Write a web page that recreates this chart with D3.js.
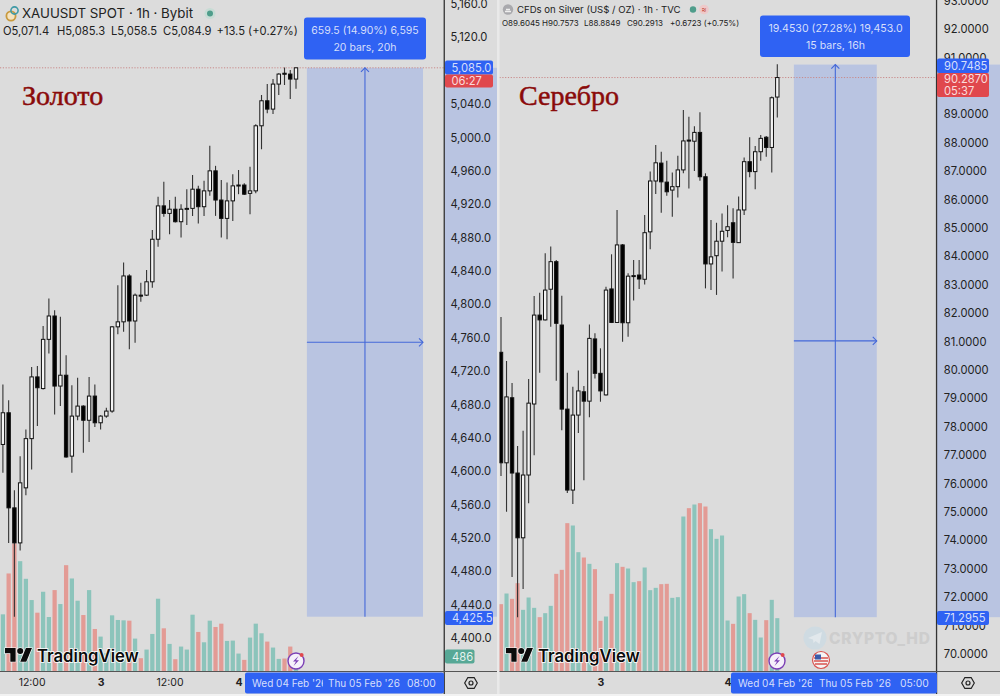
<!DOCTYPE html>
<html><head><meta charset="utf-8">
<script src="https://cdn.jsdelivr.net/npm/d3@7"></script>
<style>html,body{margin:0;padding:0;background:#dcdcdc;overflow:hidden}svg{display:block}text{font-family:Inter,"Liberation Sans",sans-serif}</style>
</head><body><svg id="c" width="1000" height="696"></svg>
<script>
// ---------- GOLD (XAUUSDT 1h) ----------
const goldOpen=[4632,4670,4556,4514,4580,4639,4713,4699,4758,4786,4702,4715,4618,4666,4678,4661,4690,4658,4666,4672,4773,4779,4834,4780,4811,4811,4827,4878,4918,4909,4914,4899,4914,4915,4938,4917,4936,4960,4925,4903,4924,4942,4943,4933,4936,5014,5044,5034,5064,5077,5076,5070];
const goldHigh=[4704,4685,4577,4618,4650,4725,4726,4774,4807,4793,4785,4739,4703,4712,4679,4713,4704,4667,4676,4774,4823,4850,4836,4813,4826,4841,4889,4929,4947,4925,4929,4920,4938,4955,4942,4948,4990,4966,4949,4946,4956,4961,4945,4965,5016,5051,5064,5070,5077,5084,5081,5084];
const goldLow=[4598,4514,4425.5,4505,4571,4602,4654,4698,4741,4668,4678,4616,4598,4661,4622,4635,4653,4650,4664,4670,4764,4767,4746,4754,4803,4810,4820,4869,4905,4884,4898,4880,4895,4906,4897,4906,4930,4906,4880,4878,4900,4932,4931,4908,4933,4986,5029,5028,5051,5063,5046,5058.5];
const goldClose=[4670,4556,4514,4586,4639,4713,4700,4758,4786,4702,4715,4617,4666,4678,4661,4690,4658,4666,4672,4773,4779,4834,4780,4811,4810,4827,4878,4918,4909,4914,4899,4914,4915,4938,4917,4936,4960,4925,4903,4924,4942,4943,4932,4936,5014,5044,5034,5064,5076,5076,5070,5083.5];
const goldVolume=[1772,3039,3966,3420,2874,2215,1823,2472,1689,2524,2091,3296,2884,2194,1751,2524,1318,1082,567,1741,1597,1586,1576,1020,412,680,1164,2256,1339,855,381,773,680,1761,1226,906,1576,1380,1483,948,958,556,361,1051,1483,1185,927,742,391,402,773,486];
const goldPriceTicks=[5160,5120,5040,5000,4960,4920,4880,4840,4800,4760,4720,4680,4640,4600,4560,4520,4480,4440,4400];
const goldTimeIdx=[5,17,29,41];
const goldTimeLabels=["12:00","3","12:00","4"];
// ---------- SILVER (CFDs on Silver 1h) ----------
const silverOpen=[80.62,76.73,79.02,76.37,74.09,76.30,78.80,81.93,81.76,82.84,83.81,81.58,78.62,75.77,78.41,79.23,78.90,81.09,79.88,79.12,82.85,81.67,84.40,81.66,83.30,83.34,83.19,84.86,86.65,87.28,86.61,86.33,86.45,87.04,88.09,88.05,88.36,86.80,83.73,84.02,84.53,84.91,85.18,84.48,85.63,87.33,86.98,87.68,88.19,87.83,89.6045];
const silverHigh=[81.86,80.31,79.54,77.32,77.86,79.68,82.60,82.72,84.11,84.34,83.87,82.61,79.90,79.41,79.98,79.43,81.60,81.29,80.76,82.93,84.07,85.63,84.43,83.40,83.87,83.87,85.45,86.98,87.92,87.68,87.36,86.95,87.54,89.15,88.91,88.58,89.07,86.92,85.28,85.18,85.51,85.80,85.69,86.10,87.48,88.19,87.88,88.27,88.23,89.62,90.7573];
const silverLow=[76.27,75.01,72.71,71.2955,72.29,75.31,77.00,79.90,81.74,81.52,79.62,77.88,75.67,75.28,77.78,76.12,78.33,79.70,78.88,79.10,81.65,81.65,80.99,81.17,82.44,82.85,83.01,84.25,86.19,85.53,86.13,85.39,86.07,86.92,86.39,87.00,86.66,82.87,82.81,82.64,83.46,84.67,83.22,84.47,85.45,86.78,86.36,87.36,87.50,86.95,88.8849];
const silverClose=[76.73,79.05,76.37,74.09,76.30,78.83,81.93,81.76,82.81,83.81,81.64,78.62,75.77,78.41,79.26,78.90,81.11,79.88,79.26,82.81,81.67,84.40,81.66,83.30,83.32,83.20,84.83,86.65,87.29,86.62,86.27,86.45,87.04,88.06,88.07,88.36,86.80,83.73,83.98,84.53,84.88,85.04,84.49,85.63,87.33,86.98,87.68,88.15,87.83,89.58,90.2913];
const silverVolume=[2020,2340,2180,2650,1850,2220,1910,1630,1750,1970,2930,3050,4450,4380,3580,3420,3230,3070,1520,1650,2330,3250,3140,3090,2680,2710,3120,2440,2510,2620,2630,2210,2230,4650,4900,5010,5050,4950,4270,3980,4080,1530,1430,2250,2320,1750,1550,1020,1540,2150,1600];
const silverPriceTicks=[93,92,91,89,88,87,86,85,84,83,82,81,80,79,78,77,76,75,74,73,72,71,70];
const silverTimeIdx=[18,41];
const silverTimeLabels=["3","4"];

const COL={bg:"#dcdcdc",blue:"#2f62f3",band:"#b9c4e1",line:"#4468d8",red:"#e0484d",teal:"#8cc4bb",pink:"#e39b95",ink:"#222",tip:"#d6dffb",green:"#57a896"};
const svg=d3.select("#c");
svg.append("rect").attr("width",1000).attr("height",696).attr("fill",COL.bg);
const defs=svg.append("defs");

function clip(id,x,y,w,h){defs.append("clipPath").attr("id",id).append("rect").attr("x",x).attr("y",y).attr("width",w).attr("height",h);}

function chart(o){
  const g=svg.append("g");
  const x=d3.scaleLinear().domain(o.xDomain).range(o.xRange);
  const y=d3.scaleLinear().domain(o.yDomain).range(o.yRange);
  const bw=(o.xRange[1]-o.xRange[0])/(o.xDomain[1]-o.xDomain[0]);
  const idx=d3.range(o.open.length);
  const vy=d3.scaleLinear().domain([0,o.volPerPx*100]).range([671.5,571.5]);
  clip(o.id,o.pane[0],0,o.pane[1]-o.pane[0],671.5);
  const plot=g.append("g").attr("clip-path",`url(#${o.id})`);
  // measure band
  const bx0=x(o.measure[0]),bx1=x(o.measure[1]);
  plot.append("rect").attr("x",bx0).attr("width",bx1-bx0).attr("y",y(o.measure[3])).attr("height",y(o.measure[2])-y(o.measure[3])).attr("fill",COL.band);
  // last price dotted line
  plot.append("line").attr("x1",o.pane[0]).attr("x2",o.pane[1]).attr("y1",y(o.last)).attr("y2",y(o.last)).attr("stroke","#c98a8a").attr("stroke-dasharray","1.2,1.6").attr("stroke-width",1);
  // measure arrows
  const mx=(bx0+bx1)/2,my=(y(o.measure[2])+y(o.measure[3]))/2,top=y(o.measure[3]);
  const a=plot.append("g").attr("stroke",COL.line).attr("fill","none").attr("stroke-width",1.1);
  a.append("line").attr("x1",mx).attr("x2",mx).attr("y1",y(o.measure[2])).attr("y2",top);
  a.append("path").attr("d",`M${mx-4},${top+4}L${mx},${top}L${mx+4},${top+4}`);
  a.append("line").attr("x1",bx0).attr("x2",bx1).attr("y1",my).attr("y2",my);
  a.append("path").attr("d",`M${bx1-4},${my-4}L${bx1},${my}L${bx1-4},${my+4}`);
  // volume
  plot.selectAll("rect.v").data(idx).join("rect").attr("class","v")
    .attr("x",i=>x(i)-bw*0.37).attr("width",bw*0.74)
    .attr("y",i=>vy(o.vol[i])).attr("height",i=>671.5-vy(o.vol[i]))
    .attr("fill",i=>o.close[i]>=o.open[i]?COL.teal:COL.pink);
  // wicks
  plot.selectAll("line.w").data(idx).join("line").attr("class","w")
    .attr("x1",i=>x(i)).attr("x2",i=>x(i)).attr("y1",i=>y(o.high[i])).attr("y2",i=>y(o.low[i]))
    .attr("stroke","#333").attr("stroke-width",1.1);
  // bodies
  plot.selectAll("rect.b").data(idx).join("rect").attr("class","b")
    .attr("x",i=>x(i)-1.7).attr("width",3.4)
    .attr("y",i=>y(Math.max(o.open[i],o.close[i])))
    .attr("height",i=>Math.max(1,Math.abs(y(o.open[i])-y(o.close[i]))))
    .attr("fill",i=>o.close[i]>=o.open[i]?"#f4f4f4":"#000").attr("stroke","#111").attr("stroke-width",1);
  // price axis column
  const ax=o.pane[1];
  g.append("rect").attr("x",ax).attr("y",y(o.measure[3])).attr("width",o.axisW).attr("height",y(o.measure[2])-y(o.measure[3])).attr("fill",COL.band);
  const axis=d3.axisRight(y).tickValues(o.ticks).tickSize(0).tickPadding(o.tickPad).tickFormat(o.fmt);
  const ag=g.append("g").attr("transform",`translate(${ax},0)`).call(axis);
  ag.select(".domain").remove();
  ag.selectAll("text").attr("font-size",11.2).attr("fill",COL.ink).attr("font-family","Inter,sans-serif");
  // time axis
  const taxis=d3.axisBottom(x).tickValues(o.timeIdx).tickSize(0).tickPadding(7).tickFormat((d,i)=>o.timeLabels[i]);
  const tg=g.append("g").attr("transform","translate(0,671.5)").call(taxis);
  tg.select(".domain").remove();
  tg.selectAll("text").attr("font-size",10.5).attr("fill",COL.ink).attr("font-family","Inter,sans-serif")
    .attr("font-weight",(d,i)=>o.timeLabels[i].length===1?700:400);
  // frame
  g.append("line").attr("x1",ax-.25).attr("x2",ax-.25).attr("y1",0).attr("y2",694).attr("stroke","#333").attr("stroke-width",1.3);
  g.append("line").attr("x1",o.pane[0]).attr("x2",ax+o.axisW).attr("y1",671.5).attr("y2",671.5).attr("stroke","#555").attr("stroke-width",1.2);
  return {x,y,g};
}

function box(g,x,y,w,h,fill,r=2){g.append("rect").attr("x",x).attr("y",y).attr("width",w).attr("height",h).attr("rx",r).attr("fill",fill);}
function txt(g,x,y,s,size,fill,extra={}){const t=g.append("text").attr("x",x).attr("y",y).attr("font-size",size).attr("fill",fill).text(s);for(const k in extra)t.attr(k,extra[k]);return t;}

function logo(g,x,y){
  const l=g.append("g").attr("transform",`translate(${x},${y}) scale(.76)`).attr("stroke","#fff").attr("stroke-width",1.6).style("paint-order","stroke").attr("fill","#0b0b0b");
  l.append("path").attr("d","M14 22H7V11H0V4h14z");
  l.append("path").attr("d","M28 22h-8l7.5-18h8z");
  l.append("circle").attr("cx",20).attr("cy",8).attr("r",4);
  txt(g,x+32,y+16.5,"TradingView",16.7,"#0b0b0b",{"font-weight":600,"stroke":"#fff","stroke-width":1.6,"paint-order":"stroke"});
}
function bolt(g,cx,cy){
  g.append("circle").attr("cx",cx).attr("cy",cy).attr("r",8).attr("fill","#f5f0fa").attr("stroke","#7b3fb5").attr("stroke-width",1.4);
  g.append("path").attr("d",`M${cx+2.5},${cy-5}L${cx-3},${cy+.5}H${cx}L${cx-2.5},${cy+5}L${cx+3},${cy-.8}H${cx}Z`).attr("fill","#7b3fb5");
  g.append("circle").attr("cx",cx+5.6).attr("cy",cy-6).attr("r",2).attr("fill","#e0484d");
}
function gear(g,cx,cy){
  const p=d3.range(6).map(i=>{const a=Math.PI/3*i;return [cx+6.3*Math.cos(a),cy+6.3*Math.sin(a)];});
  g.append("path").attr("d","M"+p.join("L")+"Z").attr("fill","none").attr("stroke","#222").attr("stroke-width",1.2);
  g.append("circle").attr("cx",cx).attr("cy",cy).attr("r",2).attr("fill","none").attr("stroke","#222").attr("stroke-width",1.2);
}

// light gutter between the two screenshots, and strip at the bottom
svg.append("rect").attr("x",497).attr("width",2.5).attr("height",696).attr("fill","#e9e9e9");
svg.append("rect").attr("y",694).attr("width",1000).attr("height",2).attr("fill","#f2f2f2");

const L=chart({id:"pg",xDomain:[0,51],xRange:[2.9,296],yDomain:[4400,5160],yRange:[638,4],pane:[0,444.5],axisW:52.5,
  open:goldOpen,high:goldHigh,low:goldLow,close:goldClose,vol:goldVolume,volPerPx:31,last:5083.5,measure:[52.9,73.1,4425.5,5083.5],
  ticks:goldPriceTicks,tickPad:6,fmt:d3.format(",.1f"),timeIdx:goldTimeIdx,timeLabels:goldTimeLabels});
const R=chart({id:"ps",xDomain:[0,50],xRange:[501,777.3],yDomain:[70,92],yRange:[654,29],pane:[499.5,936.8],axisW:63.2,
  open:silverOpen,high:silverHigh,low:silverLow,close:silverClose,vol:silverVolume,volPerPx:30,last:90.2913,measure:[53,68,71.2955,90.7485],
  ticks:silverPriceTicks,tickPad:7,fmt:d3.format(".4f"),timeIdx:silverTimeIdx,timeLabels:silverTimeLabels});

const o=svg.append("g");
// Gold header
o.append("circle").attr("cx",11).attr("cy",16).attr("r",4.6).attr("fill","#f4e3c0").attr("stroke","#c99a3e").attr("stroke-width",1.8);
o.append("circle").attr("cx",14.5).attr("cy",10.5).attr("r",3.6).attr("fill","none").attr("stroke","#3e9aa6").attr("stroke-width",1.6);
txt(o,22,18,"XAUUSDT SPOT · 1h · Bybit",13.3,COL.ink);
o.append("circle").attr("cx",210).attr("cy",13.5).attr("r",5.5).attr("fill","#c7dcd5");
o.append("circle").attr("cx",210).attr("cy",13.5).attr("r",3).attr("fill","#4f9d8b");
[[3,"O5,071.4"],[57,"H5,085.3"],[111,"L5,058.5"],[163,"C5,084.9"],[216.5,"+13.5 (+0.27%)"]].forEach(d=>txt(o,d[0],35,d[1],11.2,COL.ink));
// Gold measure tip
box(o,304,17.5,122,42,COL.blue,3);
txt(o,365,34,"659.5 (14.90%) 6,595",10.5,COL.tip,{"text-anchor":"middle"});
txt(o,365,51,"20 bars, 20h",10.5,COL.tip,{"text-anchor":"middle"});
// Gold axis labels
box(o,445,60.5,48,14,COL.blue);txt(o,451.5,71.5,"5,085.0",11.2,COL.tip);
box(o,445,74.5,48,13,COL.red);txt(o,451.5,84.5,"06:27",11.2,"#fbdcdc");
box(o,445,611,48,14,COL.blue);txt(o,452,622,"4,425.5",11.2,COL.tip);
box(o,445,649.5,29.5,14,COL.green);txt(o,452,660.5,"486",11.2,"#e6f3ef");
gear(o,471,683);
// Gold date strip
box(o,245,672.5,199,21,COL.blue);
clip("cl1",245,672,78,22);
txt(o,252,687,"Wed 04 Feb '26",10,COL.tip,{"clip-path":"url(#cl1)"});
txt(o,328,687,"Thu 05 Feb '26",10,COL.tip);
txt(o,407,687,"08:00",10.3,COL.tip);
logo(o,5,645);
bolt(o,296,661);
txt(o,22,105,"Золото",28,"#8a0a0a",{style:"font-family:'Liberation Serif',serif","font-weight":400,"stroke":"#8a0a0a","stroke-width":.5});

// Silver header
o.append("circle").attr("cx",508).attr("cy",9.5).attr("r",5.2).attr("fill","#a9a9ad");
o.append("path").attr("d","M505,11.5h6M506,9.5h4").attr("stroke","#eee").attr("stroke-width",1.3);
txt(o,517,13,"CFDs on Silver (US$ / OZ) · 1h · TVC",9.6,COL.ink);
o.append("circle").attr("cx",693).attr("cy",9.5).attr("r",3.2).attr("fill","#4f9d8b");
o.append("circle").attr("cx",704).attr("cy",9.5).attr("r",4.8).attr("fill","#eec9c9");
txt(o,704,12,"≈",7.5,"#c0392b",{"text-anchor":"middle"});
[[502,"O89.6045"],[542,"H90.7573"],[584,"L88.8849"],[627,"C90.2913"],[670,"+0.6723 (+0.75%)"]].forEach(d=>txt(o,d[0],25.5,d[1],8,COL.ink));
// Silver measure tip
box(o,760,15.5,150,41.5,COL.blue,3);
txt(o,835.5,32,"19.4530 (27.28%) 19,453.0",10.6,COL.tip,{"text-anchor":"middle"});
txt(o,835.5,49,"15 bars, 16h",10.6,COL.tip,{"text-anchor":"middle"});
// Silver axis labels
box(o,937,58.5,52,14.5,COL.blue);txt(o,944,69.5,"90.7485",11.2,COL.tip);
box(o,937,73,52,24,COL.red);txt(o,944,83,"90.2870",11.2,"#fbdcdc");txt(o,944,94.5,"05:37",11.2,"#fbdcdc");
box(o,937,611,52,14,COL.blue);txt(o,944,622,"71.2955",11.2,COL.tip);
gear(o,968,683);
// Silver date strip
box(o,731,672.5,206,21,COL.blue);
clip("cl2",731,672,81,22);
txt(o,738,687,"Wed 04 Feb '26",10,COL.tip,{"clip-path":"url(#cl2)"});
txt(o,819,687,"Thu 05 Feb '26",10,COL.tip);
txt(o,900,687,"05:00",10.3,COL.tip);
logo(o,506,645);
bolt(o,777,661);
// US flag event
const fc=o.append("g");
fc.append("circle").attr("cx",821).attr("cy",660).attr("r",8.5).attr("fill","#f5f5f5").attr("stroke","#d9534f").attr("stroke-width",1.2);
fc.append("path").attr("d","M814,658h14M814,661h14M815,664h12").attr("stroke","#d9534f").attr("stroke-width",1.3);
fc.append("rect").attr("x",815).attr("y",654.5).attr("width",6).attr("height",5).attr("fill","#3b5aa8");
// Watermark
o.append("circle").attr("cx",815).attr("cy",638).attr("r",11.5).attr("fill","#cfdbe2");
o.append("path").attr("d","M808,638l14,-6l-2.5,12l-4,-3l-2,2l-.5,-3.500z").attr("fill","#e2e8ec");
txt(o,829,644,"CRYPTO_HD",15.5,"#cdcdcd",{"font-weight":800,"letter-spacing":.7});
txt(o,519,105,"Серебро",28,"#8a0a0a",{style:"font-family:'Liberation Serif',serif","font-weight":400,"stroke":"#8a0a0a","stroke-width":.5});
</script></body></html>
